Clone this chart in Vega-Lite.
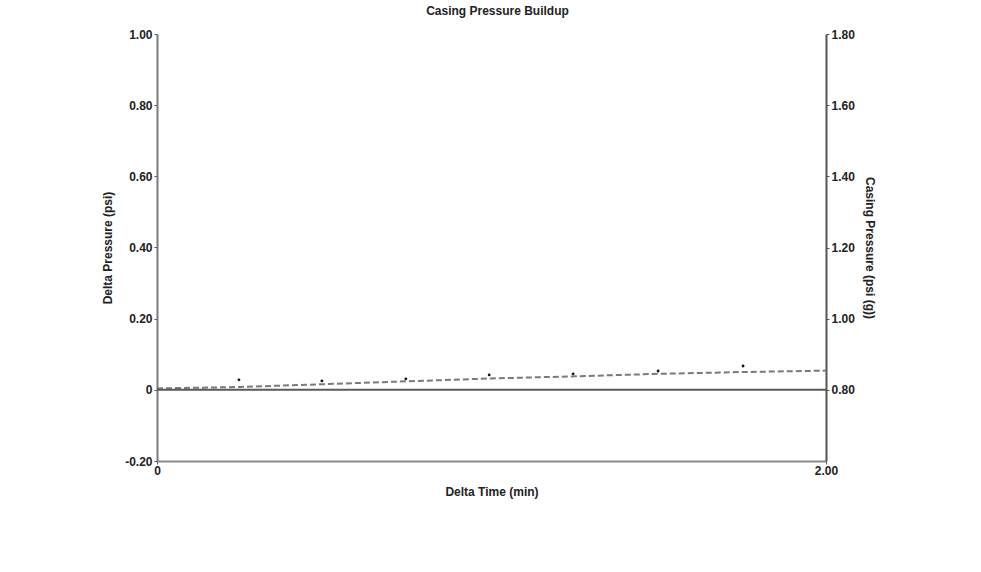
{
  "$schema": "https://vega.github.io/schema/vega-lite/v6.json",
  "width": 669,
  "height": 427,
  "autosize": {"type": "none"},
  "padding": {"left": 157, "top": 34, "right": 155, "bottom": 111},
  "background": "white",
  "title": {
    "text": "Casing Pressure Buildup",
    "font": "Liberation Sans",
    "fontSize": 12,
    "fontWeight": "bold",
    "color": "#222",
    "anchor": "middle",
    "offset": 10,
    "dx": 6
  },
  "config": {
    "view": {"stroke": null},
    "axis": {
      "labelFont": "Liberation Sans",
      "labelFontSize": 12,
      "labelFontWeight": "bold",
      "labelColor": "#222",
      "titleFont": "Liberation Sans",
      "titleFontSize": 12,
      "titleFontWeight": "bold",
      "titleColor": "#222",
      "grid": false,
      "tickSize": 3,
      "tickColor": "#555",
      "domainWidth": 2
    }
  },
  "datasets": {
    "fit": [
      {"t": 0.0, "dp": 0.004},
      {"t": 0.25, "dp": 0.008},
      {"t": 0.5, "dp": 0.016},
      {"t": 0.75, "dp": 0.024},
      {"t": 1.0, "dp": 0.032},
      {"t": 1.25, "dp": 0.038},
      {"t": 1.5, "dp": 0.045},
      {"t": 1.75, "dp": 0.05},
      {"t": 2.0, "dp": 0.054}
    ],
    "obs": [
      {"t": 0.245, "dp": 0.028},
      {"t": 0.493, "dp": 0.025},
      {"t": 0.744, "dp": 0.031},
      {"t": 0.993, "dp": 0.042},
      {"t": 1.244, "dp": 0.045},
      {"t": 1.498, "dp": 0.053},
      {"t": 1.752, "dp": 0.067}
    ],
    "casing": [
      {"t": 0.0, "cp": 0.8},
      {"t": 2.0, "cp": 0.8}
    ]
  },
  "layer": [
    {
      "layer": [
        {
          "data": {"name": "fit"},
          "mark": {"type": "line", "color": "#7a7a7a", "strokeWidth": 2, "strokeDash": [6, 3]},
          "encoding": {
            "x": {
              "field": "t", "type": "quantitative",
              "scale": {"domain": [0, 2], "nice": false},
              "axis": {
                "title": "Delta Time (min)",
                "values": [0, 2],
                "labelFlush": false,
                "labelExpr": "datum.value == 0 ? '0' : format(datum.value, '.2f')",
                "domainColor": "#8a8a8a",
                "labelPadding": 1,
                "titlePadding": 10
              }
            },
            "y": {
              "field": "dp", "type": "quantitative",
              "scale": {"domain": [-0.2, 1.0], "nice": false, "zero": false},
              "axis": {
                "title": "Delta Pressure (psi)",
                "values": [-0.2, 0, 0.2, 0.4, 0.6, 0.8, 1.0],
                "labelFlush": false,
                "labelExpr": "datum.value == 0 ? '0' : replace(format(datum.value, '.2f'), '\u2212', '-')",
                "domainColor": "#7a7a7a",
                "labelPadding": 2,
                "titlePadding": 10
              }
            }
          }
        },
        {
          "data": {"name": "obs"},
          "mark": {"type": "point", "filled": true, "color": "#111", "size": 8, "opacity": 1},
          "encoding": {
            "x": {"field": "t", "type": "quantitative"},
            "y": {"field": "dp", "type": "quantitative"}
          }
        }
      ]
    },
    {
      "data": {"name": "casing"},
      "mark": {"type": "line", "color": "#5a5a5a", "strokeWidth": 2},
      "encoding": {
        "x": {"field": "t", "type": "quantitative"},
        "y": {
          "field": "cp", "type": "quantitative",
          "scale": {"domain": [0.6, 1.8], "nice": false, "zero": false},
          "axis": {
            "orient": "right",
            "title": "Casing Pressure (psi (g))",
            "titleAngle": 90,
            "values": [0.8, 1.0, 1.2, 1.4, 1.6, 1.8],
            "labelFlush": false,
            "format": ".2f",
            "domainColor": "#555",
            "labelPadding": 2,
            "titlePadding": 8
          }
        }
      }
    }
  ],
  "resolve": {"scale": {"y": "independent"}}
}
